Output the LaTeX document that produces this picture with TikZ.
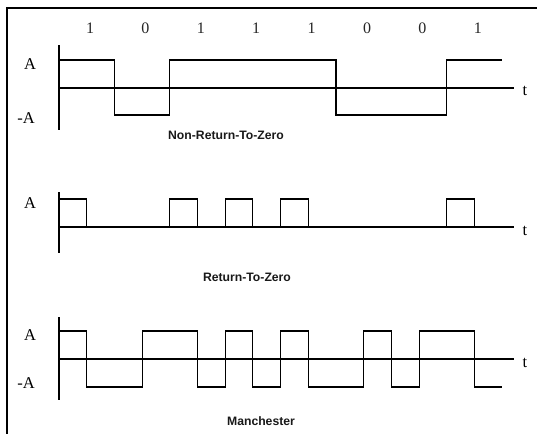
\documentclass[tikz,border=0pt]{standalone}
\usepackage{fontspec}
\setmainfont{Liberation Serif}
\newfontfamily\labelfont{Liberation Sans}
\begin{document}
\begin{tikzpicture}[x=1pt,y=-1pt,
  frame/.style={line width=1.8pt},
  axis/.style={line width=1.6pt},
  vaxis/.style={line width=1.1pt},
  sig/.style={line width=1.1pt, line join=miter},
  bitlbl/.style={font=\fontsize{16}{16}\selectfont, text=black!85, inner sep=0pt},
  lvl/.style={font=\fontsize{16.5}{16.5}\selectfont, inner sep=0pt},
  title/.style={font=\labelfont\bfseries\fontsize{12.2}{12.2}\selectfont, text=black!90, inner sep=0pt}]
\useasboundingbox (0,0) rectangle (537,434);
\fill[white] (0,0) rectangle (537,434);

% outer frame: top and left edges only
\coordinate (ftl) at (7,8);
\coordinate (ftr) at (537,8);
\coordinate (fbl) at (7,434);
\draw[frame] (ftr) -- (ftl) -- (fbl);

% bit values
\foreach \b [count=\i from 0] in {1,0,1,1,1,0,0,1}
  \node[bitlbl] (bit\i) at ({90+\i*55.4},28) {\b};

% ---------- Non-Return-To-Zero ----------
\coordinate (n0) at (59,88);
\coordinate (nend) at (514,88);
\coordinate (ntop) at (59,45);
\coordinate (nbot) at (59,130);
\draw[vaxis] (ntop) -- (nbot);
\draw[axis] (n0) -- (nend);
\node[lvl] (nA) at (30,64) {A};
\node[lvl] (nmA) at (26,118) {-A};
\node[lvl] (nt) at (525,91) {t};
\draw[sig] (59,60) -- (114.4,60) -- (114.4,115) -- (169.8,115) -- (169.8,60)
  -- (336,60) -- (336,115) -- (446.8,115) -- (446.8,60) -- (502,60);
\node[title] (nrz) at (226,135) {Non-Return-To-Zero};

% ---------- Return-To-Zero ----------
\coordinate (r0) at (59,227);
\coordinate (rend) at (514,227);
\coordinate (rtop) at (59,192);
\coordinate (rbot) at (59,253);
\draw[vaxis] (rtop) -- (rbot);
\draw[axis,line width=1.1pt] (r0) -- (rend);
\node[lvl] (rA) at (30,203) {A};
\node[lvl] (rt) at (525,231) {t};
\foreach \i in {0,2,3,4,7}
  \draw[sig] ({59+\i*55.4},227) -- ({59+\i*55.4},199) -- ({59+\i*55.4+27.7},199) -- ({59+\i*55.4+27.7},227);
\node[title] (rz) at (247,277) {Return-To-Zero};

% ---------- Manchester ----------
\coordinate (m0) at (59,359);
\coordinate (mend) at (514,359);
\coordinate (mtop) at (59,317);
\coordinate (mbot) at (59,400);
\draw[vaxis] (mtop) -- (mbot);
\draw[axis] (m0) -- (mend);
\node[lvl] (mA) at (30,335) {A};
\node[lvl] (mmA) at (26,383) {-A};
\node[lvl] (mt) at (525,363) {t};
\draw[sig] (59,331) -- (86.7,331) -- (86.7,387) -- (142.1,387) -- (142.1,331)
  -- (197.5,331) -- (197.5,387) -- (225.2,387) -- (225.2,331) -- (252.9,331)
  -- (252.9,387) -- (280.6,387) -- (280.6,331) -- (308.3,331) -- (308.3,387)
  -- (363.7,387) -- (363.7,331) -- (391.4,331) -- (391.4,387) -- (419.1,387)
  -- (419.1,331) -- (474.5,331) -- (474.5,387) -- (502.2,387);
\node[title] (man) at (261,421) {Manchester};
\end{tikzpicture}
\end{document}
